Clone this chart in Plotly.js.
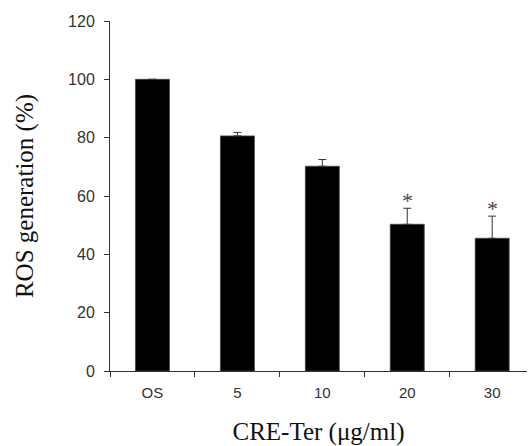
<!DOCTYPE html>
<html>
<head>
<meta charset="utf-8">
<script src="https://cdn.plot.ly/plotly-3.0.1.min.js"></script>
<style>html,body{margin:0;padding:0;background:#fff;}#chart{width:528px;height:446px;}</style>
</head>
<body>
<div id="chart"></div>
<script>
var categories = ["OS", "5", "10", "20", "30"];
var values = [100, 80.6, 70.2, 50.3, 45.5];
var errorsUp = [0, 1.2, 2.3, 5.5, 7.6];
var significant = [false, false, false, true, true];

var annotations = [];
for (var i = 0; i < categories.length; i++) {
  if (significant[i]) {
    annotations.push({
      x: i, y: values[i] + errorsUp[i],
      xref: "x", yref: "y", text: "*", showarrow: false,
      yanchor: "bottom", yshift: -7,
      font: {family: "Liberation Serif, Times New Roman, serif", size: 22, color: "#444"}
    });
  }
}

var trace = {
  type: "bar",
  x: categories,
  y: values,
  width: 0.4,
  marker: {color: "#000", line: {color: "#444", width: 0.8}},
  error_y: {type: "data", symmetric: false, array: errorsUp, arrayminus: errorsUp.map(function(){return 0;}),
            color: "#333", thickness: 1, width: 4},
  hoverinfo: "skip"
};

var layout = {
  width: 528, height: 446,
  margin: {l: 110, r: 1, t: 21, b: 75},
  paper_bgcolor: "#fff", plot_bgcolor: "#fff",
  showlegend: false,
  xaxis: {
    type: "category",
    range: [-0.5, 4.41],
    tickson: "boundaries",
    ticks: "outside", ticklen: 5, tickcolor: "#333", tickwidth: 1,
    ticklabelstandoff: 8,
    showline: true, linecolor: "#333", linewidth: 1,
    showgrid: false, zeroline: false,
    tickfont: {family: "Liberation Sans, Arial, sans-serif", size: 15, color: "#333"},
    title: {text: "CRE-Ter (μg/ml)", standoff: 22,
            font: {family: "Liberation Serif, Times New Roman, serif", size: 25, color: "#111"}}
  },
  yaxis: {
    range: [0, 120],
    tickvals: [0, 20, 40, 60, 80, 100, 120],
    ticks: "outside", ticklen: 5, tickcolor: "#333", tickwidth: 1,
    ticklabelstandoff: 6,
    showline: true, linecolor: "#333", linewidth: 1,
    showgrid: false, zeroline: false,
    tickfont: {family: "Liberation Sans, Arial, sans-serif", size: 16, color: "#333"},
    title: {text: "ROS generation (%)", standoff: 27,
            font: {family: "Liberation Serif, Times New Roman, serif", size: 25, color: "#111"}}
  },
  annotations: annotations
};

Plotly.newPlot("chart", [trace], layout, {staticPlot: true, displayModeBar: false});
</script>
</body>
</html>
